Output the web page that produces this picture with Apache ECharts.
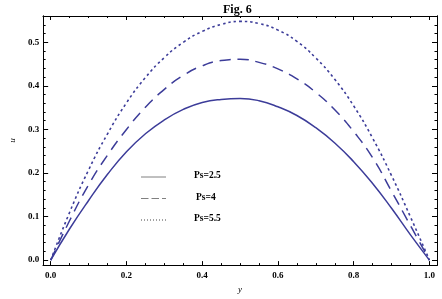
<!DOCTYPE html>
<html>
<head>
<meta charset="utf-8">
<script src="https://cdn.jsdelivr.net/npm/echarts@6/dist/echarts.min.js"></script>
<style>html,body{margin:0;padding:0;background:#fff}#c{width:442px;height:299px}</style>
</head>
<body>
<div id="c"></div>
<script>
// ---- data ----
var yPos = [0, 0.05, 0.1, 0.15, 0.2, 0.25, 0.3, 0.35, 0.4, 0.45, 0.5, 0.55, 0.6, 0.65, 0.7, 0.75, 0.8, 0.85, 0.9, 0.95, 1.0];
var uPs25 = [0, 0.072, 0.137, 0.197, 0.249, 0.290, 0.322, 0.346, 0.362, 0.369, 0.371, 0.366, 0.352, 0.332, 0.304, 0.269, 0.226, 0.176, 0.119, 0.058, 0];
var uPs4  = [0, 0.091, 0.173, 0.241, 0.300, 0.351, 0.392, 0.424, 0.446, 0.458, 0.461, 0.454, 0.439, 0.416, 0.385, 0.345, 0.295, 0.235, 0.158, 0.079, 0];
var uPs55 = [0, 0.110, 0.207, 0.290, 0.361, 0.419, 0.465, 0.500, 0.525, 0.541, 0.548, 0.543, 0.528, 0.502, 0.464, 0.415, 0.354, 0.280, 0.194, 0.099, 0];
var xMajor = [0, 0.2, 0.4, 0.6, 0.8, 1.0];
var xMinor = [0.05, 0.1, 0.15, 0.25, 0.3, 0.35, 0.45, 0.5, 0.55, 0.65, 0.7, 0.75, 0.85, 0.9, 0.95];
var yMajor = [0, 0.1, 0.2, 0.3, 0.4, 0.5];
var yMinor = [0.02, 0.04, 0.06, 0.08, 0.12, 0.14, 0.16, 0.18, 0.22, 0.24, 0.26, 0.28, 0.32, 0.34, 0.36, 0.38, 0.42, 0.44, 0.46, 0.48, 0.52, 0.54];
var legendNames = ['Ps=2.5', 'Ps=4', 'Ps=5.5'];
var xName = 'y', yName = 'u', titleText = 'Fig. 6';

var serif = 'Liberation Serif, Times New Roman, serif';
var lineColor = '#3c3c99';
function pairs(ys) { return yPos.map(function (x, i) { return [x, ys[i]]; }); }

var XMIN = -0.02, XMAX = 1.02, YMIN = -0.0114, YMAX = 0.5604;

function xAx(pos, vals, len, labels) {
  return {
    type: 'value', position: pos, min: XMIN, max: XMAX,
    axisLine: { show: true, onZero: false, lineStyle: { color: '#000', width: 1 } },
    axisTick: { show: true, inside: true, length: len, customValues: vals, lineStyle: { color: '#000', width: 1 } },
    axisLabel: labels ? { show: true, customValues: vals, margin: 6, color: '#000', fontFamily: serif, fontWeight: 'bold', fontSize: 9,
      formatter: function (v) { return v.toFixed(1); } } : { show: false },
    splitLine: { show: false }
  };
}
function yAx(pos, vals, len, labels) {
  return {
    type: 'value', position: pos, min: YMIN, max: YMAX,
    axisLine: { show: true, onZero: false, lineStyle: { color: '#000', width: 1 } },
    axisTick: { show: true, inside: true, length: len, customValues: vals, lineStyle: { color: '#000', width: 1 } },
    axisLabel: labels ? { show: true, customValues: vals, margin: 4, color: '#000', fontFamily: serif, fontWeight: 'bold', fontSize: 9,
      formatter: function (v) { return v.toFixed(1); } } : { show: false },
    splitLine: { show: false }
  };
}

var xs = [xAx('bottom', xMajor, 4, true), xAx('bottom', xMinor, 2, false), xAx('top', xMajor, 4, false), xAx('top', xMinor, 2, false)];
var ysAx = [yAx('left', yMajor, 5, true), yAx('left', yMinor, 2.5, false), yAx('right', yMajor, 5, false), yAx('right', yMinor, 2.5, false)];
xs[0].name = xName; xs[0].nameLocation = 'middle'; xs[0].nameGap = 19;
xs[0].nameTextStyle = { fontFamily: serif, fontStyle: 'italic', fontSize: 9, color: '#000' };
ysAx[0].name = yName; ysAx[0].nameLocation = 'middle'; ysAx[0].nameGap = 22;
ysAx[0].nameTextStyle = { fontFamily: serif, fontStyle: 'italic', fontSize: 9, color: '#000' };

var chart = echarts.init(document.getElementById('c'), null, { renderer: 'canvas' });
var legX1 = 141, legX2 = 166, legTX = 194;
chart.setOption({
  animation: false,
  backgroundColor: '#fff',
  title: { text: titleText, left: 218, top: -1, textStyle: { fontFamily: serif, fontWeight: 'bold', fontSize: 12, color: '#000' } },
  grid: { left: 30, top: 16, right: 5, bottom: 32, containLabel: false },
  xAxis: xs,
  yAxis: ysAx,
  series: [
    { name: legendNames[0], type: 'line', data: pairs(uPs25), smooth: 0.5, showSymbol: false, lineStyle: { color: lineColor, width: 1.5, type: 'solid' } },
    { name: legendNames[1], type: 'line', data: pairs(uPs4), smooth: 0.5, showSymbol: false, lineStyle: { color: lineColor, width: 1.5, type: [11, 7] } },
    { name: legendNames[2], type: 'line', data: pairs(uPs55), smooth: 0.5, showSymbol: false, lineStyle: { color: lineColor, width: 1.6, type: [2.5, 3] } }
  ],
  graphic: [
    { type: 'line', shape: { x1: legX1, y1: 177, x2: legX2, y2: 177 }, style: { stroke: '#808080', lineWidth: 1 } },
    { type: 'line', shape: { x1: legX1, y1: 198.5, x2: legX2, y2: 198.5 }, style: { stroke: '#808080', lineWidth: 1, lineDash: [7.5, 3] } },
    { type: 'line', shape: { x1: legX1, y1: 220, x2: legX2, y2: 220 }, style: { stroke: '#444', lineWidth: 1, lineDash: [1, 2] } },
    { type: 'text', x: legTX, y: 176, style: { text: legendNames[0], font: 'bold 9.5px ' + serif, fill: '#000', verticalAlign: 'middle' } },
    { type: 'text', x: legTX + 2, y: 197.5, style: { text: legendNames[1], font: 'bold 9.5px ' + serif, fill: '#000', verticalAlign: 'middle' } },
    { type: 'text', x: legTX, y: 219, style: { text: legendNames[2], font: 'bold 9.5px ' + serif, fill: '#000', verticalAlign: 'middle' } }
  ]
});
</script>
</body>
</html>
